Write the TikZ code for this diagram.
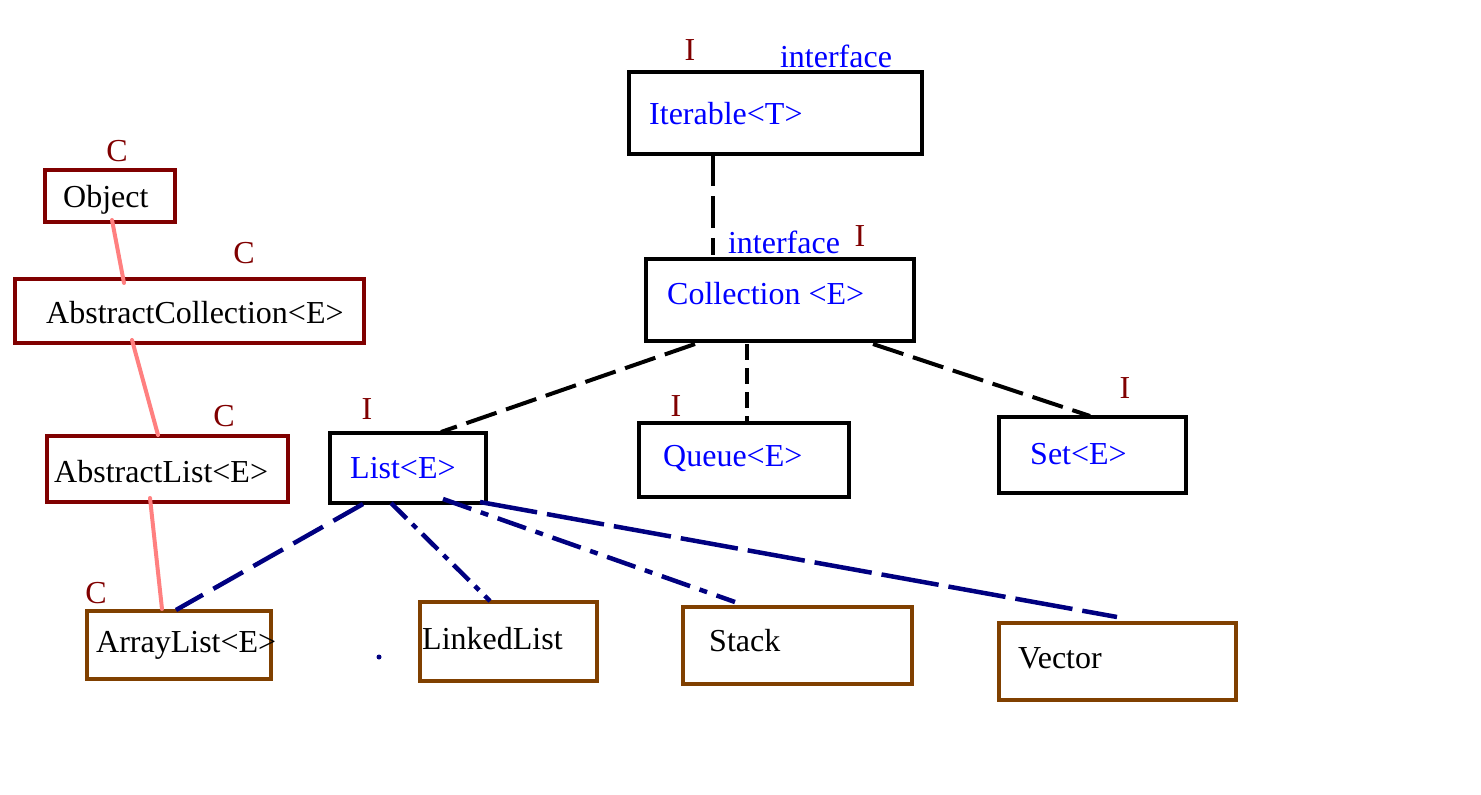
\documentclass[tikz,border=0pt]{standalone}
\usepackage{fontspec}
\setmainfont{Liberation Serif}
\usetikzlibrary{calc}
\definecolor{dred}{HTML}{800000}
\definecolor{pinkl}{HTML}{FF8080}
\definecolor{navyl}{HTML}{000080}
\definecolor{brownb}{HTML}{804000}
\definecolor{blueT}{HTML}{0000FF}
\tikzset{
  box/.style={draw, line width=4pt, inner sep=0pt, outer sep=0pt},
  ibox/.style={box, draw=black},
  cbox/.style={box, draw=dred},
  kbox/.style={box, draw=brownb},
  txt/.style={font=\fontsize{32}{38}\selectfont, inner sep=0pt, anchor=base west, yshift=-2.5pt},
  itxt/.style={txt, text=blueT},
  ctxt/.style={txt, text=black},
  tag/.style={font=\fontsize{32}{38}\selectfont, inner sep=0pt, anchor=base, text=dred, yshift=-2pt},
  iface/.style={font=\fontsize{32}{38}\selectfont, inner sep=0pt, anchor=base, text=blueT, yshift=-2pt},
  idash/.style={draw=black, line width=4pt, dash pattern=on 32pt off 10pt},
  ndash/.style={draw=navyl, line width=4.5pt, dash pattern=on 34pt off 12pt},
  nddash/.style={draw=navyl, line width=4.5pt, dash pattern=on 30pt off 10pt on 8pt off 10pt},
  inh/.style={draw=pinkl, line width=4pt, line cap=round}
}
\begin{document}
\begin{tikzpicture}[x=1pt, y=-1pt]
\useasboundingbox (0,0) rectangle (1481,795);
% boxes
\node[ibox, minimum width=293pt, minimum height=82pt] (iter) at (775.5,113) {};
\node[ibox, minimum width=268pt, minimum height=82pt] (coll) at (780,300) {};
\node[ibox, minimum width=156pt, minimum height=70pt] (list) at (408,468) {};
\node[ibox, minimum width=210pt, minimum height=74pt] (queue) at (744,460) {};
\node[ibox, minimum width=187pt, minimum height=76pt] (set) at (1092.5,455) {};
\node[cbox, minimum width=130pt, minimum height=52pt] (obj) at (110,196) {};
\node[cbox, minimum width=349pt, minimum height=64pt] (absc) at (189.5,311) {};
\node[cbox, minimum width=241pt, minimum height=66pt] (absl) at (167.5,469) {};
\node[kbox, minimum width=184pt, minimum height=68pt] (arr) at (179,645) {};
\node[kbox, minimum width=177pt, minimum height=79pt] (linked) at (508.5,641.5) {};
\node[kbox, minimum width=229pt, minimum height=77pt] (stack) at (797.5,645.5) {};
\node[kbox, minimum width=237pt, minimum height=77pt] (vector) at (1117.5,661.5) {};
% box texts
\node[itxt] (iterT) at (649,122) {Iterable<T>};
\node[itxt] (collT) at (667,302) {Collection <E>};
\node[itxt] (listT) at (350,476) {List<E>};
\node[itxt] (queueT) at (663,464) {Queue<E>};
\node[itxt] (setT) at (1030,462) {Set<E>};
\node[ctxt] (objT) at (63,205) {Object};
\node[ctxt] (abscT) at (46,321) {AbstractCollection<E>};
\node[ctxt] (abslT) at (54,480) {AbstractList<E>};
\node[ctxt] (arrT) at (96,650) {ArrayList<E>};
\node[ctxt] (linkedT) at (422,647) {LinkedList};
\node[ctxt] (stackT) at (709,649) {Stack};
\node[ctxt] (vectorT) at (1018,666) {Vector};
% tags
\node[tag] (iterI) at (690,58) {I};
\node[iface] (iterF) at (836,65) {interface};
\node[iface] (collF) at (784,251) {interface};
\node[tag] (collI) at (860,244) {I};
\node[tag] (listI) at (367,417) {I};
\node[tag] (queueI) at (676,414) {I};
\node[tag] (setI) at (1125,396) {I};
\node[tag] (objC) at (117,159) {C};
\node[tag] (abscC) at (244,261) {C};
\node[tag] (abslC) at (224,424) {C};
\node[tag] (arrC) at (96,601) {C};
% interface connectors
\draw[idash] ($(iter.south west)+(84,0)$) -- ($(coll.north west)+(67,-4)$);
\draw[idash] ($(coll.south west)+(49,3)$) -- ($(list.north west)+(111,-1)$);
\draw[idash, dash pattern=on 16pt off 8pt] ($(coll.south west)+(101,3)$) -- ($(queue.north west)+(108,-2)$);
\draw[idash] ($(coll.south west)+(227,3)$) -- ($(set.north west)+(91,-1)$);
% class inheritance
\draw[inh] ($(obj.south west)+(67,-2)$) -- ($(absc.north west)+(109,4)$);
\draw[inh] ($(absc.south west)+(117,-3)$) -- ($(absl.north west)+(111,-1)$);
\draw[inh] ($(absl.south west)+(103,-4)$) -- ($(arr.north west)+(75,-2)$);
% implementations
\draw[ndash] ($(list.south west)+(33,1)$) -- ($(arr.north west)+(89,-1)$);
\draw[nddash, dash pattern=on 22pt off 8pt on 6pt off 8pt] ($(list.south west)+(61,0)$) -- ($(linked.north west)+(70,-1)$);
\draw[nddash] ($(list.south west)+(113,-4)$) -- ($(stack.north west)+(52,-5)$);
\draw[ndash, dash pattern=on 58pt off 10pt] ($(list.south west)+(150,-1)$) -- ($(vector.north west)+(118,-6)$);
\fill[navyl] (379,657) circle (2.5pt);
\end{tikzpicture}
\end{document}
